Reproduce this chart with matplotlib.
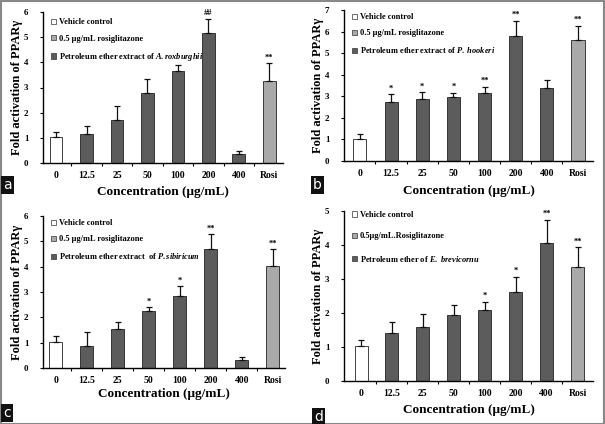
"""Four-panel PPARy activation bar charts (petroleum ether extracts vs rosiglitazone)."""

import matplotlib

matplotlib.use("Agg")
import matplotlib.pyplot as plt
from matplotlib.patches import Patch, Rectangle
from matplotlib.ticker import FixedLocator

plt.rcParams["font.family"] = ["Liberation Serif", "DejaVu Serif"]
plt.rcParams["font.weight"] = "bold"
plt.rcParams["mathtext.fontset"] = "custom"
plt.rcParams["mathtext.it"] = "Liberation Serif:italic:bold"
plt.rcParams["mathtext.rm"] = "Liberation Serif:bold"

categories = ["0", "12.5", "25", "50", "100", "200", "400", "Rosi"]

# panel a - A. roxburghii
a_vals = [1.02, 1.15, 1.69, 2.77, 3.66, 5.16, 0.37, 3.25]
a_err = [0.20, 0.34, 0.58, 0.55, 0.25, 0.57, 0.10, 0.73]
a_marks = ["", "", "", "", "", "##", "", "**"]

# panel b - P. hookeri
b_vals = [1.04, 2.72, 2.86, 2.95, 3.15, 5.80, 3.40, 5.60]
b_err = [0.20, 0.37, 0.34, 0.22, 0.30, 0.71, 0.34, 0.68]
b_marks = ["", "*", "*", "*", "**", "**", "", "**"]

# panel c - P. sibiricum
c_vals = [1.03, 0.88, 1.53, 2.26, 2.84, 4.71, 0.33, 4.02]
c_err = [0.22, 0.54, 0.28, 0.13, 0.38, 0.58, 0.09, 0.68]
c_marks = ["", "", "", "*", "*", "**", "", "**"]

# panel d - E. brevicornu
d_vals = [1.02, 1.42, 1.58, 1.93, 2.10, 2.62, 4.06, 3.35]
d_err = [0.20, 0.33, 0.38, 0.32, 0.23, 0.44, 0.68, 0.59]
d_marks = ["", "", "", "", "*", "*", "**", "**"]

WHITE, DARK, LIGHT = "#ffffff", "#5c5c5c", "#a9a9a9"
W, H = 605, 424


def px_axes(fig, left, right, top, bottom):
    return fig.add_axes([left / W, 1 - bottom / H, (right - left) / W, (bottom - top) / H])


def panel(fig, box, vals, err, marks, ymax, xlim, legend_labels, leg_top, leg_spacing,
          letter, letter_xy, xlabel_y):
    ax = px_axes(fig, *box)
    x = list(range(len(categories)))
    colors = [WHITE] + [DARK] * 6 + [LIGHT]
    ax.bar(x, vals, width=0.42, color=colors, edgecolor="#222222", linewidth=0.6, zorder=2)
    ax.errorbar(x, vals, yerr=[[0] * len(err), err], fmt="none", ecolor="#111111",
                elinewidth=0.9, capsize=2, capthick=0.9, zorder=3)
    for xi, v, e, m in zip(x, vals, err, marks):
        if m:
            ax.text(xi, v + e + ymax * 0.01, m, ha="center", va="bottom", fontsize=6,
                    fontweight="bold")
    ax.set_ylim(0, ymax)
    ax.set_xlim(*xlim)
    ax.set_yticks(range(ymax + 1))
    ax.tick_params(axis="y", labelsize=6.5, length=2.5, width=0.8, pad=8)
    ax.set_xticks(x)
    ax.set_xticklabels(categories, fontsize=7)
    ax.tick_params(axis="x", length=0, pad=6)
    ax.xaxis.set_minor_locator(FixedLocator([i + 0.5 for i in range(7)]))
    ax.tick_params(axis="x", which="minor", length=2.5, width=0.8, direction="out")
    for s in ("top", "right"):
        ax.spines[s].set_visible(False)
    for s in ("left", "bottom"):
        ax.spines[s].set_linewidth(1.0)
    ax.set_ylabel("Fold activation of PPAR\u03b3", fontsize=9, fontweight="bold", labelpad=1)
    ax.text(0.5, xlabel_y, "Concentration (\u03bcg/mL)", transform=ax.transAxes,
            ha="center", va="center", fontsize=9.5, fontweight="bold")
    handles = [Patch(facecolor=c, edgecolor="#333333", linewidth=0.5) for c in (WHITE, LIGHT, DARK)]
    ax.legend(handles, legend_labels, loc="upper left", bbox_to_anchor=(0.02, leg_top),
              frameon=False, fontsize=6, handlelength=0.6, handleheight=0.6,
              handletextpad=0.3, labelspacing=leg_spacing, borderaxespad=0)
    fig.text(letter_xy[0] / W, 1 - letter_xy[1] / H, letter, ha="left", va="center",
             color="white", fontsize=10, family="DejaVu Sans", fontweight="normal",
             bbox=dict(boxstyle="square,pad=0.15", facecolor="#111111", edgecolor="none"))
    return ax


fig = plt.figure(figsize=(W / 100, H / 100), dpi=100)

panel(fig, (43, 283, 12, 163), a_vals, a_err, a_marks, 6, (-0.43, 7.45),
      ["Vehicle control", "0.5 \u03bcg/mL rosiglitazone",
       r"Petroleum ether extract of $\mathit{A.roxburghii}$"],
      0.98, 1.0, "a", (3, 185), -0.19)
panel(fig, (344, 593, 10, 161), b_vals, b_err, b_marks, 7, (-0.51, 7.48),
      ["Vehicle control", "0.5 \u03bcg/mL rosiglitazone",
       r"Petroleum ether extract of $\mathit{P.\ hookeri}$"],
      1.0, 0.95, "b", (313, 185), -0.2)
panel(fig, (43, 285, 216, 368), c_vals, c_err, c_marks, 6, (-0.42, 7.4),
      ["Vehicle control", "0.5 \u03bcg/mL rosiglitazone",
       r"Petroleum ether extract  of $\mathit{P.sibiricum}$"],
      1.0, 0.95, "c", (3, 413), -0.17)
panel(fig, (344, 593, 211, 381), d_vals, d_err, d_marks, 5, (-0.55, 7.5),
      ["Vehicle control", "0.5\u03bcg/mL.Rosiglitazone",
       r"Petroleum ether of $\mathit{E.\ brevicornu}$"],
      1.02, 1.6, "d", (314, 417), -0.17)

fig.patches.append(Rectangle((0.001, 0.001), 0.997, 0.997, transform=fig.transFigure,
                             fill=False, edgecolor="#888888", linewidth=1.5))

fig.savefig("out.png", dpi=100)
